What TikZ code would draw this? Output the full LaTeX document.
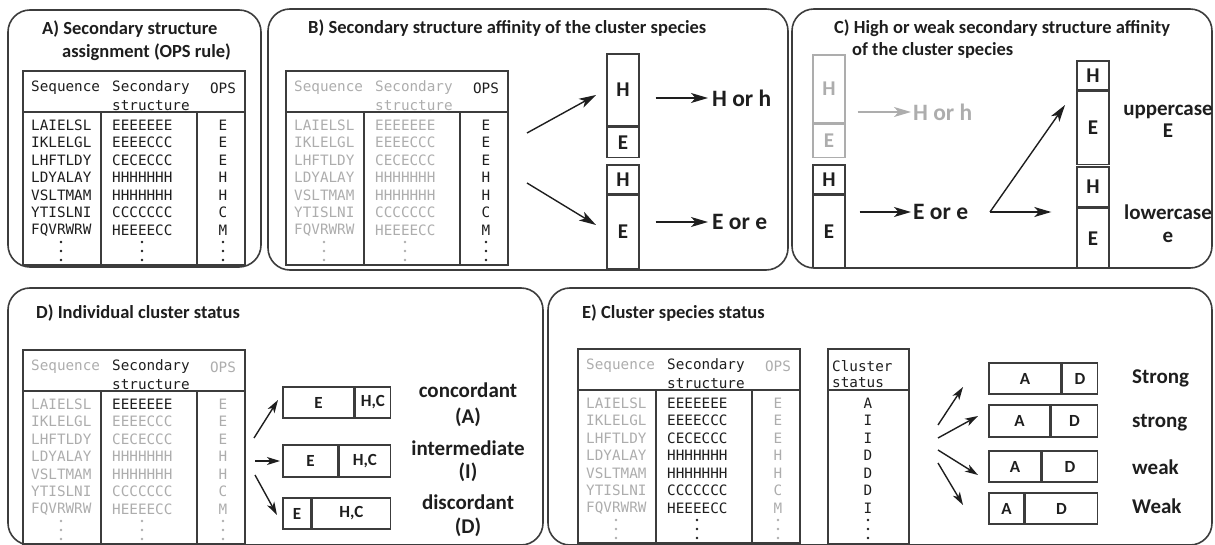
\documentclass[tikz,border=0pt]{standalone}
\usepackage{fontspec}
\setmainfont{Carlito}
\newfontfamily\monofont{DejaVu Sans Mono}
\usetikzlibrary{arrows.meta,positioning}

\definecolor{ink}{HTML}{1E1E1E}
\definecolor{faded}{HTML}{ADADAD}
\definecolor{rule}{HTML}{3C3C3C}

\tikzset{
  panel/.style={draw=rule, line width=1.6pt, rounded corners=22pt},
  tabline/.style={draw=rule, line width=1.5pt},
  mono/.style={font=\monofont\fontsize{14.3}{17}\selectfont, inner sep=0pt},
  paneltitle/.style={font=\fontsize{18.5}{22}\selectfont\bfseries, text=ink, inner sep=0pt, anchor=base west},
  bigtext/.style={font=\fontsize{23.5}{26}\selectfont\bfseries, text=ink, inner sep=0pt},
  sidetext/.style={font=\fontsize{21}{24}\selectfont\bfseries, text=ink, inner sep=0pt},
  cell/.style={draw=rule, line width=1.4pt, inner sep=0pt, text=ink, minimum width=32pt,
    font=\fontsize{21}{24}\selectfont\bfseries},
  smallcell/.style={draw=rule, line width=1.4pt, inner sep=0pt, text=ink,
    font=\fontsize{17}{20}\selectfont\bfseries},
  arr/.style={-{Stealth[length=17pt,width=10pt,inset=4.5pt]}, line width=1.4pt, color=ink},
  shortarr/.style={-{Stealth[length=13pt,width=8pt,inset=3.5pt]}, line width=1.4pt, color=ink},
}

% sequence table: #1 name, #2 x, #3 y, #4 sequence colour, #5 structure header colour,
% #6 first structure row colour, #7 other structure rows colour, #8 OPS colour
\newcommand{\seqtable}[8]{%
\begin{scope}[shift={(#2,#3)}]
  \draw[tabline] (0,0) rectangle (222,194);
  \draw[tabline] (0,41) -- (222,41);
  \draw[tabline] (78,41) -- (78,194);
  \draw[tabline] (174,41) -- (174,194);
  \node[mono, text=#4, anchor=west] (#1seqh) at (8,17) {Sequence};
  \node[mono, text=#5, anchor=west] (#1ssh) at (89,17) {Secondary};
  \node[mono, text=#5, anchor=west] (#1ssh2) at (89,35) {structure};
  \node[mono, text=#8] (#1opsh) at (200,17) {OPS};
  \foreach \s/\t/\o [count=\i] in {LAIELSL/EEEEEEE/E, IKLELGL/EEEECCC/E, LHFTLDY/CECECCC/E,
      LDYALAY/HHHHHHH/H, VSLTMAM/HHHHHHH/H, YTISLNI/CCCCCCC/C, FQVRWRW/HEEEECC/M} {
    \pgfmathsetmacro{\yy}{54+17.5*(\i-1)}
    \ifnum\i=1 \def\sscol{#6}\else\def\sscol{#7}\fi
    \node[mono, text=#4, anchor=west] (#1seq\i) at (8,\yy) {\s};
    \node[mono, text=\sscol, anchor=west] (#1ss\i) at (89,\yy) {\t};
    \node[mono, text=#8] (#1ops\i) at (200,\yy) {\o};
  }
  \foreach \yy in {171,180,189} {
    \fill[#4] (38,\yy) circle (1.3);
    \fill[#7] (119,\yy) circle (1.3);
    \fill[#8] (200,\yy) circle (1.3);
  }
\end{scope}}

\begin{document}
\begin{tikzpicture}[x=1pt, y=-1pt]
\useasboundingbox (0,0) rectangle (1215,545);
\clip (0,0) rectangle (1215,545);

% Panels
\draw[panel] (8,10) rectangle (261,267);
\draw[panel] (268,9) rectangle (788,270);
\draw[panel] (792,9) rectangle (1212,268);
\draw[panel] (8,288) rectangle (543,545);
\draw[panel] (548,288) rectangle (1212,545);

% Titles
\node[paneltitle] (tA1) at (42,35) {A) Secondary structure};
\node[paneltitle] (tA2) at (62,58) {assignment (OPS rule)};
\node[paneltitle] (tB) at (308,34) {B) Secondary structure affinity of the cluster species};
\node[paneltitle] (tC1) at (834,34) {C) High or weak secondary structure affinity};
\node[paneltitle] (tC2) at (852,56) {of the cluster species};
\node[paneltitle] (tD) at (36,319) {D) Individual cluster status};
\node[paneltitle] (tE) at (582,318) {E) Cluster species status};

% Tables
\seqtable{a}{23}{71}{ink}{ink}{ink}{ink}{ink}
\seqtable{b}{286}{71}{faded}{faded}{faded}{faded}{ink}
\seqtable{d}{23}{350}{faded}{ink}{ink}{faded}{faded}
\seqtable{e}{578}{349}{faded}{ink}{ink}{ink}{faded}

% B) affinity boxes
\node[cell, minimum height=72pt] (bH1) at (623,90) {H};
\node[cell, minimum height=30pt, below=0pt of bH1] (bE1) {E};
\node[cell, minimum height=29pt] (bH2) at (623,179.5) {H};
\node[cell, minimum height=73pt, below=0pt of bH2] (bE2) {E};
\coordinate (bs1) at (527,133);
\coordinate (bt1) at (596,95);
\coordinate (bs2) at (527,183);
\coordinate (bt2) at (596,225);
\draw[arr] (bs1) -- (bt1);
\draw[arr] (bs2) -- (bt2);
\node[bigtext, anchor=west] (bhh) at (712,98) {H or h};
\node[bigtext, anchor=west] (bee) at (712,222) {E or e};
\draw[arr, shorten <=16pt, shorten >=4pt] (bhh.west -| bH1.east) -- (bhh.west);
\draw[arr, shorten <=16pt, shorten >=4pt] (bee.west -| bE2.east) -- (bee.west);

% C) high or weak affinity
\node[cell, minimum height=68pt, draw=faded, text=faded] (gH1) at (829,89) {H};
\node[cell, minimum height=33pt, draw=faded, text=faded, below=0pt of gH1] (gE1) {E};
\node[cell, minimum height=29pt] (cH) at (829,179.5) {H};
\node[cell, minimum height=72pt, below=0pt of cH] (cE) {E};
\node[bigtext, anchor=west, text=faded] (chh) at (913,112) {H or h};
\node[bigtext, anchor=west] (cee) at (913,212) {E or e};
\draw[arr, color=faded, shorten <=12pt, shorten >=2pt] (chh.west -| gH1.east) -- (chh.west);
\draw[arr, shorten <=14pt, shorten >=2pt] (cee.west -| cE.east) -- (cee.west);
\node[cell, minimum height=29pt] (rH1) at (1093,75.5) {H};
\node[cell, minimum height=73pt, below=0pt of rH1] (rE1) {E};
\node[cell, minimum height=40pt] (rH2) at (1093,187) {H};
\node[cell, minimum height=60pt, below=0pt of rH2] (rE2) {E};
\coordinate (vtx) at (990,212);
\coordinate (vup) at (1065,105);
\draw[arr] (vtx) -- (vup);
\draw[arr, shorten >=25pt] (vtx) -- (vtx -| rE2.west);
\node[sidetext] (up1) at (1168,112) {uppercase};
\node[sidetext] (up2) at (1168,131) {E};
\node[sidetext] (lo1) at (1168,212) {lowercase};
\node[sidetext] (lo2) at (1168,237) {e};

% D) individual cluster status
\coordinate (ds1) at (254,438);
\coordinate (dt1) at (278,400);
\coordinate (ds2) at (255,461);
\coordinate (dt2) at (280,461);
\coordinate (ds3) at (255,475);
\coordinate (dt3) at (277,515);
\draw[shortarr] (ds1) -- (dt1);
\draw[shortarr] (ds2) -- (dt2);
\draw[shortarr] (ds3) -- (dt3);
\node[smallcell, minimum width=71pt, minimum height=31pt] (dE1) at (318.5,402.5) {E};
\node[smallcell, minimum width=35pt, minimum height=31pt, right=0pt of dE1] (dHC1) {H,C};
\node[smallcell, minimum width=55pt, minimum height=32pt] (dE2) at (310.5,461) {E};
\node[smallcell, minimum width=51pt, minimum height=32pt, right=0pt of dE2] (dHC2) {H,C};
\node[smallcell, minimum width=28pt, minimum height=31pt] (dE3) at (297,513.5) {E};
\node[smallcell, minimum width=78pt, minimum height=31pt, right=0pt of dE3] (dHC3) {H,C};
\node[sidetext] (dcon) at (468,390) {concordant};
\node[sidetext] (dconA) at (468,417) {(A)};
\node[sidetext] (dint) at (468,448) {intermediate};
\node[sidetext] (dintI) at (468,472) {(I)};
\node[sidetext] (ddis) at (468,502) {discordant};
\node[sidetext] (ddisD) at (468,527) {(D)};

% E) cluster species status
\draw[tabline] (828,349) rectangle (909,544);
\draw[tabline] (828,390) -- (909,390);
\node[mono, text=ink, anchor=west] (csh1) at (832,366) {Cluster};
\node[mono, text=ink, anchor=west] (csh2) at (832,383) {status};
\foreach \c [count=\i] in {A,I,I,D,D,D,I}
  \node[mono, text=ink] (cs\i) at (868,{403+17.5*(\i-1)}) {\c};
\foreach \yy in {520,529,538}
  \fill[ink] (868,\yy) circle (1.3);
\coordinate (es1) at (938,425);
\coordinate (et1) at (963,387);
\coordinate (es2) at (938,438);
\coordinate (et2) at (978,416);
\coordinate (es3) at (938,450);
\coordinate (et3) at (978,475);
\coordinate (es4) at (938,463);
\coordinate (et4) at (963,505);
\foreach \k in {1,2,3,4}
  \draw[shortarr] (es\k) -- (et\k);
\node[smallcell, minimum width=72pt, minimum height=31pt] (eA1) at (1025,378.5) {A};
\node[smallcell, minimum width=35pt, minimum height=31pt, right=0pt of eA1] (eD1) {D};
\node[smallcell, minimum width=61pt, minimum height=32pt] (eA2) at (1019.5,421) {A};
\node[smallcell, minimum width=46pt, minimum height=32pt, right=0pt of eA2] (eD2) {D};
\node[smallcell, minimum width=52pt, minimum height=31pt] (eA3) at (1015,466.5) {A};
\node[smallcell, minimum width=55pt, minimum height=31pt, right=0pt of eA3] (eD3) {D};
\node[smallcell, minimum width=35pt, minimum height=31pt] (eA4) at (1006.5,508.5) {A};
\node[smallcell, minimum width=72pt, minimum height=31pt, right=0pt of eA4] (eD4) {D};
\node[sidetext, anchor=base west] (eS1) at (1132,383) {Strong};
\node[sidetext, anchor=base west] (eS2) at (1132,427) {strong};
\node[sidetext, anchor=base west] (eW1) at (1132,474) {weak};
\node[sidetext, anchor=base west] (eW2) at (1132,513) {Weak};
\end{tikzpicture}
\end{document}
